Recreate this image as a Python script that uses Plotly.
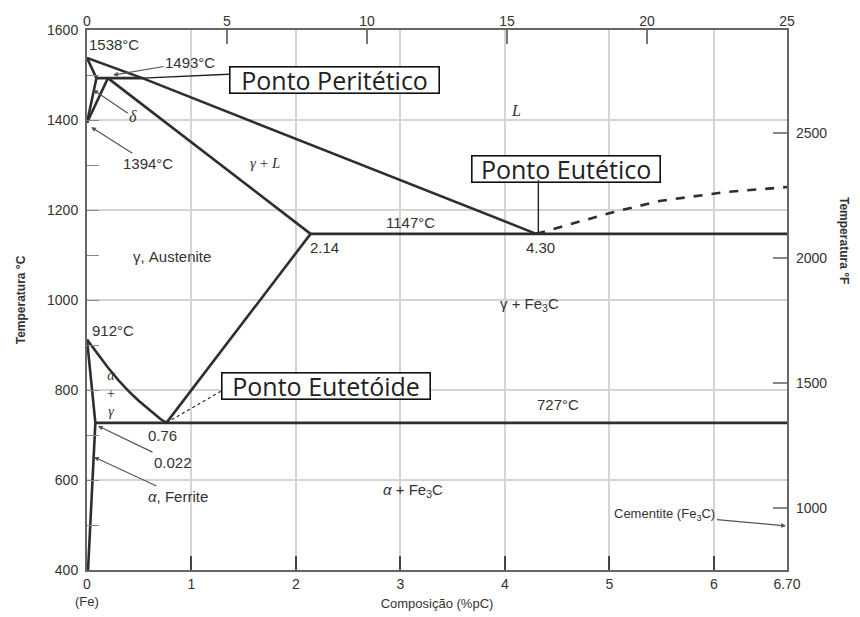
import plotly.graph_objects as go

# ---------------- data (wt% C, temperature °C) ----------------
liquidus_c = [0, 0.53, 4.30]
liquidus_t = [1538, 1493, 1147]
liquidus_ext_c = [4.30, 4.53, 5.00, 5.48, 6.12, 6.70]
liquidus_ext_t = [1147, 1162, 1193, 1220, 1240, 1251]
delta_solidus_c = [0, 0.09]
delta_solidus_t = [1538, 1493]
peritectic_c = [0.09, 0.53]
peritectic_t = [1493, 1493]
delta_solvus_c = [0.09, 0]
delta_solvus_t = [1493, 1394]
gamma_delta_c = [0.20, 0]
gamma_delta_t = [1493, 1394]
aust_solidus_c = [0.20, 2.14]
aust_solidus_t = [1493, 1147]
eutectic_c = [2.14, 6.70]
eutectic_t = [1147, 1147]
acm_c = [0.76, 2.14]
acm_t = [727, 1147]
a3_c = [0, 0.1, 0.2, 0.3, 0.4, 0.5, 0.6, 0.7, 0.76]
a3_t = [912, 880, 850, 822, 797, 775, 755, 736, 727]
alpha_gamma_c = [0, 0.08]
alpha_gamma_t = [912, 727]
eutectoid_c = [0.08, 6.70]
eutectoid_t = [727, 727]
ferrite_solvus_c = [0.08, 0.01]
ferrite_solvus_t = [727, 400]

x_ticks = [0, 1, 2, 3, 4, 5, 6, 6.70]
x_ticktext = ["0", "1", "2", "3", "4", "5", "6", "6.70"]
top_ticks = [0, 5, 10, 15, 20, 25]
y_ticks = [400, 600, 800, 1000, 1200, 1400, 1600]
f_ticks = [1000, 1500, 2000, 2500]
t_range = [400, 1600]
f_range = [t * 9 / 5 + 32 for t in t_range]
c_range = [0, 6.70]
fe3c_range = [0, 25]

LINE = "#2e2e2e"
FONT = "Liberation Sans"
SERIF = "Liberation Serif"

fig = go.Figure()

def seg(cx, ty, dash="solid"):
    fig.add_trace(go.Scatter(x=cx, y=ty, mode="lines",
                             line=dict(color=LINE, width=2.6, dash=dash),
                             showlegend=False, hoverinfo="skip"))

seg(liquidus_c, liquidus_t)
seg(liquidus_ext_c, liquidus_ext_t, dash="dash")
seg(delta_solidus_c, delta_solidus_t)
seg(peritectic_c, peritectic_t)
seg(delta_solvus_c, delta_solvus_t)
seg(gamma_delta_c, gamma_delta_t)
seg(aust_solidus_c, aust_solidus_t)
seg(eutectic_c, eutectic_t)
seg(acm_c, acm_t)
seg(a3_c, a3_t)
seg(alpha_gamma_c, alpha_gamma_t)
seg(eutectoid_c, eutectoid_t)
seg(ferrite_solvus_c, ferrite_solvus_t)

# helper invisible traces so the secondary axes are drawn
fig.add_trace(go.Scatter(x=fe3c_range, y=t_range, xaxis="x2", yaxis="y",
                         mode="markers", marker=dict(opacity=0),
                         showlegend=False, hoverinfo="skip"))
fig.add_trace(go.Scatter(x=c_range, y=f_range, xaxis="x", yaxis="y2",
                         mode="markers", marker=dict(opacity=0),
                         showlegend=False, hoverinfo="skip"))

ann = []

def label(x, y, text, size=15, family=FONT, **kw):
    ann.append(dict(x=x, y=y, xref="x", yref="y", text=text, showarrow=False,
                    font=dict(family=family, size=size, color="#333"), **kw))

def pointer(x, y, text, ax, ay, size=15, family=FONT, head=2):
    ann.append(dict(x=x, y=y, xref="x", yref="y", text=text, showarrow=True,
                    ax=ax, ay=ay, arrowhead=head, arrowsize=0.8, arrowwidth=1.2,
                    arrowcolor="#555", standoff=0,
                    font=dict(family=family, size=size, color="#333")))

def boxed(x, y, text, w):
    ann.append(dict(x=x, y=y, xref="x", yref="y", text=text, showarrow=False,
                    font=dict(family="Open Sans", size=25, color="#222"),
                    bgcolor="white", bordercolor="#111", borderwidth=1.6,
                    borderpad=0, width=w, height=25))

def leader(x, y, ax, ay):
    ann.append(dict(x=x, y=y, xref="x", yref="y", text="", showarrow=True,
                    ax=ax, ay=ay, arrowhead=0, arrowwidth=1.4,
                    arrowcolor="#222", standoff=0))

label(0.0, 1567, "1538°C", xanchor="left")
pointer(0.25, 1500, "1493°C", 77, -13)
pointer(0.06, 1467, "<i>δ</i>", 40, 27, size=16, family=SERIF)
pointer(0.04, 1384, "1394°C", 57, 36)
label(4.11, 1422, "<i>L</i>", size=16, family=SERIF)
label(1.70, 1304, "<i>γ</i> + <i>L</i>", size=15, family=SERIF)
label(3.10, 1173, "1147°C")
label(2.27, 1116, "2.14")
label(4.34, 1116, "4.30")
label(0.81, 1096, "γ, Austenite")
label(0.03, 933, "912°C", xanchor="left")
label(4.24, 991, "γ + Fe<sub>3</sub>C")
label(0.23, 793, "<i>α</i><br>+<br><i>γ</i>", size=14, family=SERIF)
label(4.51, 767, "727°C")
label(0.72, 698, "0.76")
pointer(0.105, 720, "0.022", 75, 36)
pointer(0.067, 651, "<i>α</i>, Ferrite", 84, 39)
label(3.12, 576, "<i>α</i> + Fe<sub>3</sub>C")
pointer(6.69, 498, "Cementite (Fe<sub>3</sub>C)", -121, -11, size=13)

boxed(2.37, 1489, "Ponto Peritético", 208)
boxed(4.58, 1291, "Ponto Eutético", 187)
boxed(2.29, 809, "Ponto Eutetóide", 207)
leader(0.53, 1493, 88, -4)
leader(4.32, 1147, 0, -55)

ann.append(dict(x=0, y=-0.075, xref="x", yref="paper", text="(Fe)",
                showarrow=False, font=dict(family=FONT, size=13, color="#333")))
ann.append(dict(x=1.0 + 66 / 700, y=(570 - 240) / 540, xref="paper", yref="paper",
                text="<b>Temperatura °F</b>", textangle=90, showarrow=False,
                font=dict(family=FONT, size=12, color="#333")))

fig.add_shape(type="line", xref="x", yref="y", xsizemode="pixel", ysizemode="pixel",
              xanchor=0.76, yanchor=727, x0=0, y0=0, x1=57, y1=33,
              line=dict(color="#222", width=1.2, dash="dot"))

fig.update_layout(
    width=860, height=617,
    margin=dict(l=79, r=81, t=22, b=55),
    paper_bgcolor="white", plot_bgcolor="white",
    showlegend=False,
    annotations=ann,
    font=dict(family=FONT, size=14, color="#333"),
    xaxis=dict(range=c_range, tickvals=x_ticks, ticktext=x_ticktext,
               showgrid=True, gridcolor="#d4d4d4", gridwidth=1.5,
               ticks="inside", ticklen=14, tickcolor="#444", tickwidth=1.5,
               showline=True, linecolor="#666", linewidth=2, mirror=True,
               zeroline=False, tickfont=dict(size=14), automargin=False,
               title=dict(text="Composição (%pC)", font=dict(size=13), standoff=8)),
    xaxis2=dict(range=fe3c_range, tickvals=top_ticks, overlaying="x", side="top",
                anchor="y", showgrid=False, zeroline=False, automargin=False,
                ticks="inside", ticklen=14, tickcolor="#777", tickwidth=1.5,
                tickfont=dict(size=14)),
    yaxis=dict(range=t_range, tickvals=y_ticks, showgrid=True, gridcolor="#d4d4d4",
               gridwidth=1.5, ticks="inside", ticklen=12, tickcolor="#888",
               showline=True, linecolor="#666", linewidth=2, mirror=True,
               zeroline=False, tickfont=dict(size=14), automargin=False,
               ticklabelstandoff=4,
               minor=dict(dtick=100, ticks="inside", ticklen=12, tickcolor="#888",
                          showgrid=False),
               title=dict(text="<b>Temperatura °C</b>", font=dict(size=12), standoff=19)),
    yaxis2=dict(range=f_range, tickvals=f_ticks, overlaying="y", side="right",
                anchor="x", showgrid=False, zeroline=False, automargin=False,
                ticks="inside", ticklen=14, tickcolor="#888", tickwidth=1.5,
                ticklabelstandoff=8, tickfont=dict(size=14)),
)

fig.write_html("out.html")
